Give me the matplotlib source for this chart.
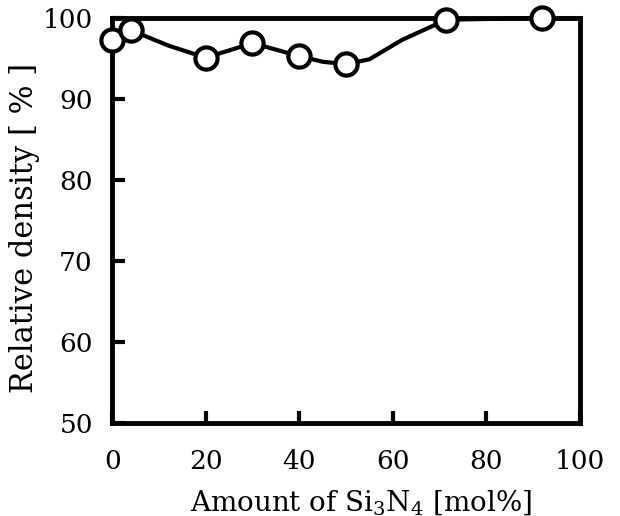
import matplotlib.pyplot as plt

plt.rcParams['font.family'] = ['DejaVu Serif']
plt.rcParams['mathtext.fontset'] = 'dejavuserif'

# measured points
si3n4 = [0, 4, 20, 30, 40, 50, 71.5, 92]
density = [97.3, 98.5, 95.1, 96.9, 95.3, 94.3, 99.8, 100.0]

# hand-drawn trend curve
curve_x = [0, 4, 12, 20, 30, 40, 45, 50, 55, 62, 71.5, 92, 100]
curve_y = [97.3, 98.5, 96.6, 95.1, 96.9, 95.3, 94.6, 94.3, 94.9, 97.3, 99.8, 100.0, 100.0]

fig = plt.figure(figsize=(6.2, 5.16), dpi=100)
ax = fig.add_axes([0.181, 0.181, 0.754, 0.784])

ax.plot(curve_x, curve_y, color='black', lw=3, zorder=3, clip_on=False)
ax.plot(si3n4, density, ls='none', marker='o', ms=16, mfc='white', mec='black',
        mew=3, zorder=4, clip_on=False)

ax.set_xlim(0, 100)
ax.set_ylim(50, 100)
ax.set_xticks([0, 20, 40, 60, 80, 100])
ax.set_yticks([50, 60, 70, 80, 90, 100])
ax.tick_params(direction='in', length=9, width=3, labelsize=19)
ax.tick_params(axis='y', pad=14)
ax.tick_params(axis='x', pad=19)
for s in ax.spines.values():
    s.set_linewidth(3.5)

ax.set_xlabel('Amount of Si$_3$N$_4$ [mol%]', fontsize=20, labelpad=10)
ax.set_ylabel('Relative density [ % ]', fontsize=22, labelpad=2)
ax.xaxis.label.set_x(0.532)
ax.yaxis.label.set_y(0.48)

fig.savefig('out.png', dpi=100)
